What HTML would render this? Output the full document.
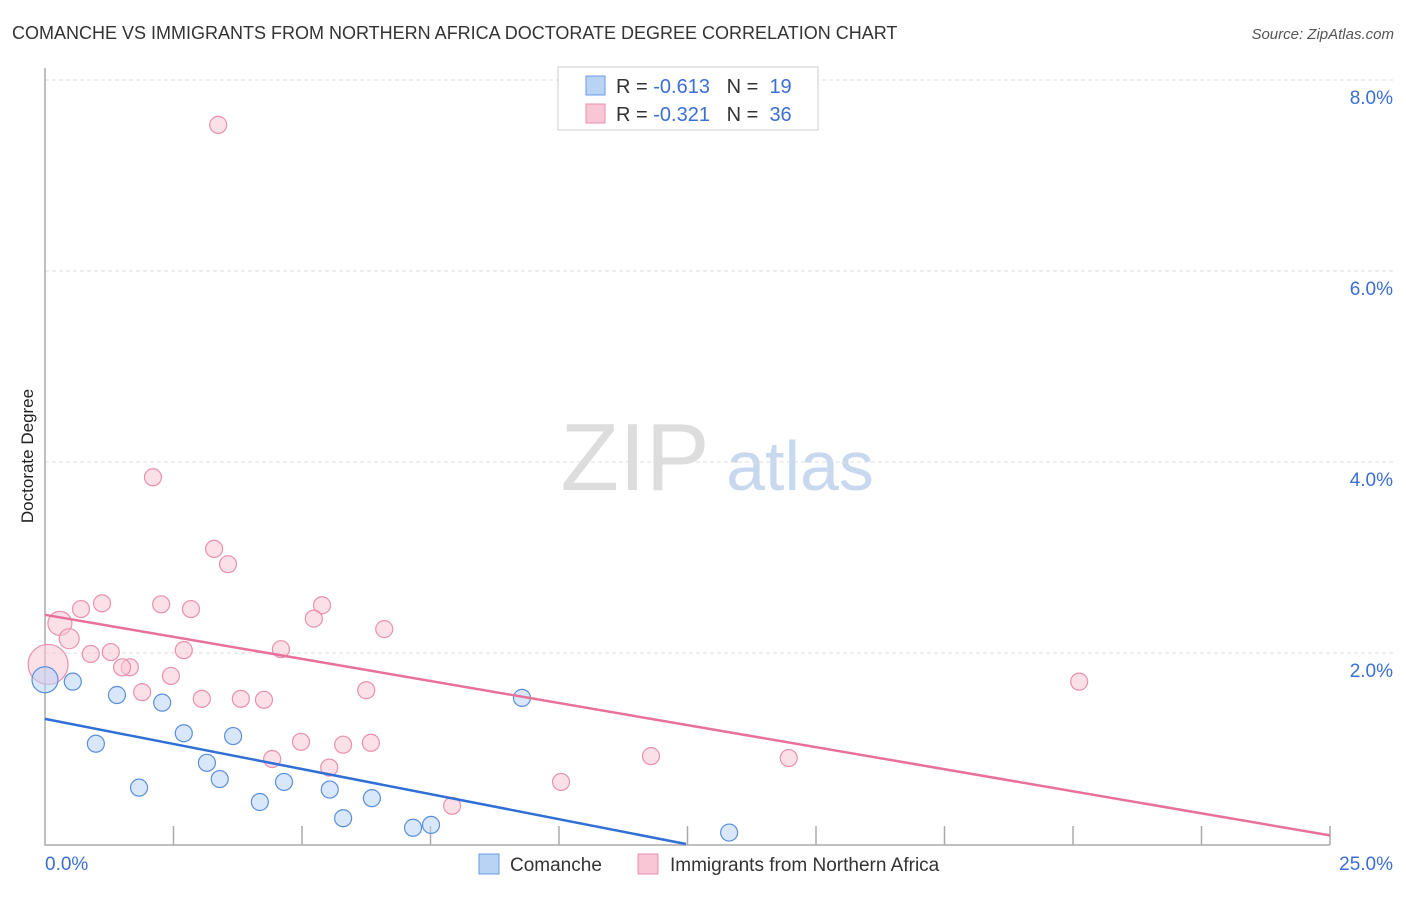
<!DOCTYPE html>
<html><head><meta charset="utf-8"><style>
body{margin:0;background:#fff;font-family:"Liberation Sans",sans-serif}
svg text{font-family:"Liberation Sans",sans-serif}
</style></head><body>
<svg id="chart" width="1406" height="892" viewBox="0 0 1406 892">
<text x="12" y="39" font-size="18" fill="#333">COMANCHE VS IMMIGRANTS FROM NORTHERN AFRICA DOCTORATE DEGREE CORRELATION CHART</text>
<text x="1394" y="39" font-size="15" fill="#555" font-style="italic" text-anchor="end">Source: ZipAtlas.com</text>
<text transform="translate(33,456) rotate(-90)" font-size="17" fill="#222" text-anchor="middle">Doctorate Degree</text>
<g>
<text x="635" y="490" font-size="96" fill="#ddd" font-family="Liberation Serif" text-anchor="middle">ZIP</text>
<text x="800" y="490" font-size="70" fill="#c7d8ef" text-anchor="middle">atlas</text>
</g>
<g id="grid"></g><g id="axes"></g><g id="marks"></g>
<g>
<rect x="558" y="67" width="260" height="63" fill="#fff" stroke="#ccc"/>
<rect x="586" y="76" width="19" height="19" fill="#b9d3f5" stroke="#6a9be0"/>
<rect x="586" y="104" width="19" height="19" fill="#f9c6d6" stroke="#e890ad"/>
<text x="616" y="93" font-size="20" fill="#333">R = <tspan fill="#3b6fd4">-0.613</tspan>&#160;&#160;&#160;N = &#160;<tspan fill="#3b6fd4">19</tspan></text>
<text x="616" y="121" font-size="20" fill="#333">R = <tspan fill="#3b6fd4">-0.321</tspan>&#160;&#160;&#160;N = &#160;<tspan fill="#3b6fd4">36</tspan></text>
</g>
<g>
<rect x="479" y="854" width="20" height="20" fill="#b9d3f5" stroke="#6a9be0"/>
<text x="510" y="871" font-size="19" fill="#333">Comanche</text>
<rect x="638" y="854" width="20" height="20" fill="#f9c6d6" stroke="#e890ad"/>
<text x="670" y="871" font-size="19" fill="#333">Immigrants from Northern Africa</text>
</g>
</svg>
<script>
const yTicks=[2,4,6,8];
const yTickLabels=["2.0%","4.0%","6.0%","8.0%"];
const xTickLabels=["0.0%","25.0%"];
const comancheX=[0,0.54,0.99,1.40,1.83,2.28,2.70,3.15,3.40,3.66,4.18,4.65,5.54,5.80,6.36,7.16,7.51,9.28,13.31];
const comancheY=[1.72,1.70,1.05,1.56,0.59,1.48,1.16,0.85,0.68,1.13,0.44,0.65,0.57,0.27,0.48,0.17,0.20,1.53,0.12];
const africaX=[3.37,2.10,3.29,3.56,1.11,0.70,2.26,2.84,5.39,5.23,6.60,0.29,0.47,1.28,0.89,2.70,4.59,1.65,1.50,0.06,2.45,1.89,3.05,3.81,4.26,6.25,20.12,4.98,5.80,6.34,4.42,5.53,11.79,14.47,10.04,7.92];
const africaY=[7.53,3.84,3.09,2.93,2.52,2.46,2.51,2.46,2.50,2.36,2.25,2.31,2.15,2.01,1.99,2.03,2.04,1.85,1.85,1.88,1.76,1.59,1.52,1.52,1.51,1.61,1.70,1.07,1.04,1.06,0.89,0.80,0.92,0.90,0.65,0.40];
const comancheTrend=[[0,1.31],[12.47,0]];
const africaTrend=[[0,2.40],[25,0.09]];
const NS="http://www.w3.org/2000/svg";
const X=v=>45+v*51.4, Y=v=>844-v*95.5;
function mk(tag,attrs,parent){const e=document.createElementNS(NS,tag);for(const k in attrs)e.setAttribute(k,attrs[k]);parent.appendChild(e);return e;}
const grid=document.getElementById('grid'),axes=document.getElementById('axes'),marks=document.getElementById('marks');
yTicks.forEach((t,i)=>{
 const l=mk('line',{x1:45,x2:1393,y1:Y(t),y2:Y(t),stroke:'#ddd','stroke-dasharray':'4,3'},grid);
 
 
 const tx=mk('text',{x:1393,y:Y(t)+24,'font-size':19,fill:'#3b6fd4','text-anchor':'end'},axes);
 tx.textContent=yTickLabels[i];
 
 
});
const ax=mk('path',{d:`M45 68 V845 H1330`,stroke:'#aaa',fill:'none','stroke-width':1.5},axes);


for(let i=1;i<=10;i++){const t=mk('line',{x1:X(i*2.5),x2:X(i*2.5),y1:826,y2:845,stroke:'#aaa','stroke-width':1.5},axes);
 
 }
[[0,'start',45],[25,'end',1393]].forEach((p,i)=>{const t=mk('text',{x:p[2],y:870,'font-size':19,fill:'#3b6fd4','text-anchor':p[1]},axes);t.textContent=xTickLabels[i];
 
 });
function dots(xs,ys,fill,stroke,name,big){xs.forEach((x,i)=>{const r=big[i]||8.5;
 const c=mk('circle',{cx:X(x),cy:Y(ys[i]),r:r,fill:fill,'fill-opacity':0.55,stroke:stroke,'stroke-width':1.2},marks);
 
 });}
dots(africaX,africaY,'#f9c6d6','#e890ad','africa-point',{11:12,12:10,19:20});
dots(comancheX,comancheY,'#b9d3f5','#5b8fdc','comanche-point',{0:13});
function trend(p,col,name){const l=mk('line',{x1:X(p[0][0]),y1:Y(p[0][1]),x2:X(p[1][0]),y2:Y(p[1][1]),stroke:col,'stroke-width':2.5},marks);
 
 }
trend(africaTrend,'#e8709a','africa-trendline');
trend(comancheTrend,'#2f6fd6','comanche-trendline');
</script>
</body></html>
